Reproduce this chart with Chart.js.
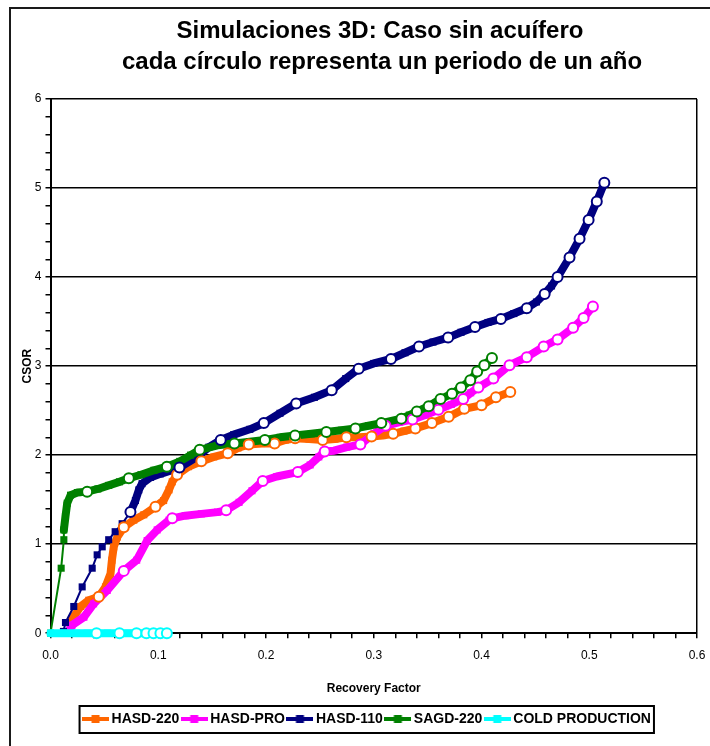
<!DOCTYPE html>
<html>
<head>
<meta charset="utf-8">
<script src="https://cdn.jsdelivr.net/npm/chart.js@4.4.1/dist/chart.umd.min.js"></script>
<style>
  html, body { margin: 0; padding: 0; background: #ffffff; }
  #wrap { width: 710px; height: 746px; }
</style>
</head>
<body>
<div id="wrap"><canvas id="chart" width="710" height="746"></canvas></div>
<script>
// Chart text
const titleLines = ['Simulaciones 3D: Caso sin acuífero', 'cada círculo representa un periodo de un año'];
const xAxisTitle = 'Recovery Factor';
const yAxisTitle = 'CSOR';
const seriesNames = ['HASD-220', 'HASD-PRO', 'HASD-110', 'SAGD-220', 'COLD PRODUCTION'];

// Each curve: [recovery factor, CSOR] along the monthly trace
const hasd220Curve = [
  [0.020, 0.16], [0.028, 0.30], [0.0355, 0.37], [0.0448, 0.41], [0.051, 0.52], [0.0557, 0.67],
  [0.057, 0.82], [0.0587, 0.97], [0.062, 1.08], [0.068, 1.19], [0.0773, 1.27], [0.0866, 1.33],
  [0.0974, 1.42], [0.105, 1.49], [0.110, 1.61], [0.113, 1.70], [0.1175, 1.78], [0.128, 1.87],
  [0.140, 1.93], [0.1515, 1.98], [0.1645, 2.02], [0.174, 2.08], [0.184, 2.12], [0.196, 2.13],
  [0.208, 2.13], [0.218, 2.17], [0.227, 2.19], [0.240, 2.18], [0.2526, 2.17], [0.264, 2.18],
  [0.2746, 2.20], [0.287, 2.20], [0.298, 2.21], [0.308, 2.22], [0.318, 2.24], [0.328, 2.27],
  [0.3386, 2.30], [0.354, 2.36], [0.3695, 2.43], [0.384, 2.52], [0.400, 2.56], [0.4134, 2.65],
  [0.4267, 2.71]
];
// Year-end points of each curve
const hasd220Years = [
  [0.0448, 0.41], [0.068, 1.19], [0.0974, 1.42], [0.1175, 1.78], [0.140, 1.93], [0.1645, 2.02],
  [0.184, 2.12], [0.208, 2.13], [0.227, 2.19], [0.2526, 2.17], [0.2746, 2.20], [0.298, 2.21],
  [0.318, 2.24], [0.3386, 2.30], [0.354, 2.36], [0.3695, 2.43], [0.384, 2.52], [0.400, 2.56],
  [0.4134, 2.65], [0.4267, 2.71]
];

const hasdProCurve = [
  [0.018, 0.04], [0.020, 0.09], [0.031, 0.18], [0.040, 0.33], [0.0526, 0.48], [0.068, 0.70],
  [0.080, 0.82], [0.0897, 1.04], [0.099, 1.16], [0.110, 1.27], [0.113, 1.29], [0.125, 1.32],
  [0.140, 1.34], [0.155, 1.36], [0.163, 1.38], [0.175, 1.47], [0.187, 1.60], [0.197, 1.71],
  [0.210, 1.76], [0.2295, 1.81], [0.241, 1.89], [0.249, 1.98], [0.2545, 2.04], [0.263, 2.05],
  [0.275, 2.09], [0.2876, 2.12], [0.300, 2.24], [0.311, 2.33], [0.324, 2.37], [0.336, 2.40],
  [0.348, 2.45], [0.360, 2.51], [0.372, 2.57], [0.383, 2.63], [0.390, 2.70], [0.397, 2.76],
  [0.411, 2.86], [0.426, 3.01], [0.442, 3.10], [0.4577, 3.22], [0.4706, 3.30], [0.485, 3.43],
  [0.4947, 3.54], [0.5034, 3.67]
];
const hasdProYears = [
  [0.068, 0.70], [0.113, 1.29], [0.163, 1.38], [0.197, 1.71], [0.2295, 1.81], [0.2545, 2.04],
  [0.2876, 2.12], [0.311, 2.33], [0.336, 2.40], [0.360, 2.51], [0.383, 2.63], [0.397, 2.76],
  [0.411, 2.86], [0.426, 3.01], [0.442, 3.10], [0.4577, 3.22], [0.4706, 3.30], [0.485, 3.43],
  [0.4947, 3.54], [0.5034, 3.67]
];

const hasd110Curve = [
  [0.012, 0.02], [0.0139, 0.12], [0.0216, 0.30], [0.0294, 0.52], [0.0387, 0.73], [0.0433, 0.88],
  [0.048, 0.97], [0.054, 1.05], [0.060, 1.14], [0.0665, 1.23], [0.0742, 1.36], [0.0788, 1.49],
  [0.082, 1.61], [0.085, 1.68], [0.0928, 1.75], [0.102, 1.79], [0.1197, 1.86], [0.136, 1.98],
  [0.147, 2.09], [0.158, 2.17], [0.170, 2.23], [0.185, 2.29], [0.198, 2.36], [0.213, 2.47],
  [0.228, 2.58], [0.245, 2.65], [0.261, 2.73], [0.274, 2.86], [0.286, 2.97], [0.300, 3.03],
  [0.316, 3.08], [0.329, 3.15], [0.342, 3.22], [0.355, 3.27], [0.369, 3.32], [0.381, 3.38],
  [0.394, 3.44], [0.406, 3.49], [0.418, 3.53], [0.430, 3.59], [0.442, 3.65], [0.451, 3.72],
  [0.4586, 3.81], [0.465, 3.90], [0.4706, 4.00], [0.4817, 4.22], [0.491, 4.43], [0.4994, 4.64],
  [0.507, 4.85], [0.514, 5.06]
];
const hasd110Years = [
  [0.0742, 1.36], [0.1197, 1.86], [0.158, 2.17], [0.198, 2.36], [0.228, 2.58], [0.261, 2.73],
  [0.286, 2.97], [0.316, 3.08], [0.342, 3.22], [0.369, 3.32], [0.394, 3.44], [0.418, 3.53],
  [0.442, 3.65], [0.4586, 3.81], [0.4706, 4.00], [0.4817, 4.22], [0.491, 4.43], [0.4994, 4.64],
  [0.507, 4.85], [0.514, 5.06]
];

const sagd220Curve = [
  [0, 0], [0.0099, 0.73], [0.0124, 1.05], [0.0124, 1.16], [0.0139, 1.31], [0.0155, 1.46],
  [0.0186, 1.55], [0.025, 1.58], [0.034, 1.59], [0.044, 1.62], [0.054, 1.66], [0.064, 1.70],
  [0.0727, 1.74], [0.084, 1.78], [0.096, 1.83], [0.108, 1.87], [0.120, 1.93], [0.130, 2.00],
  [0.1385, 2.06], [0.155, 2.11], [0.1707, 2.13], [0.185, 2.15], [0.199, 2.17], [0.213, 2.20],
  [0.227, 2.22], [0.242, 2.24], [0.256, 2.26], [0.270, 2.28], [0.283, 2.30], [0.295, 2.33],
  [0.307, 2.36], [0.3256, 2.41], [0.333, 2.45], [0.340, 2.49], [0.351, 2.55], [0.362, 2.63],
  [0.3726, 2.69], [0.381, 2.76], [0.3896, 2.84], [0.396, 2.94], [0.4026, 3.01], [0.4097, 3.09]
];
const sagd220Years = [
  [0.034, 1.59], [0.0727, 1.74], [0.108, 1.87], [0.1385, 2.06], [0.1707, 2.13], [0.199, 2.17],
  [0.227, 2.22], [0.256, 2.26], [0.283, 2.30], [0.307, 2.36], [0.3256, 2.41], [0.340, 2.49],
  [0.351, 2.55], [0.362, 2.63], [0.3726, 2.69], [0.381, 2.76], [0.3896, 2.84], [0.396, 2.94],
  [0.4026, 3.01], [0.4097, 3.09]
];

const coldCurve = [
  [0, 0], [0.012, 0], [0.024, 0], [0.034, 0], [0.0427, 0], [0.053, 0], [0.064, 0],
  [0.072, 0], [0.0798, 0], [0.089, 0], [0.0956, 0], [0.102, 0], [0.108, 0]
];
const coldYears = [
  [0.0427, 0], [0.064, 0], [0.0798, 0], [0.089, 0], [0.0956, 0], [0.102, 0], [0.108, 0]
];

// Axis ticks
const xMajorTicks = [0.0, 0.1, 0.2, 0.3, 0.4, 0.5, 0.6];
const yMajorTicks = [0, 1, 2, 3, 4, 5, 6];

// Styling
const seriesColors = ['#FF6600', '#FF00FF', '#000080', '#008000', '#00FFFF'];
const curves = [hasd220Curve, hasdProCurve, hasd110Curve, sagd220Curve, coldCurve];
const years = [hasd220Years, hasdProYears, hasd110Years, sagd220Years, coldYears];
// leading segments drawn as a thin connector (widely spaced monthly points)
const thinLead = [0, 0, 10, 3, 0];

const toPoints = arr => arr.map(([x, y]) => ({ x, y }));

function legendMarker(color) {
  const c = document.createElement('canvas');
  c.width = 27; c.height = 10;
  const g = c.getContext('2d');
  g.fillStyle = color;
  g.fillRect(0, 3, 27, 4);
  g.fillRect(9.5, 1, 8, 8);
  return c;
}
const legendMarkers = seriesColors.map(legendMarker);

const lineSets = curves.map((curve, i) => ({
  label: seriesNames[i],
  data: toPoints(curve),
  showLine: true,
  borderColor: seriesColors[i],
  backgroundColor: seriesColors[i],
  borderWidth: 8,
  borderJoinStyle: 'round',
  borderCapStyle: 'round',
  segment: { borderWidth: ctx => (ctx.p0DataIndex < thinLead[i] ? 2 : 8) },
  pointStyle: 'rect',
  pointRadius: 5,
  pointHoverRadius: 5,
  pointBorderWidth: 0,
  pointBackgroundColor: seriesColors[i],
  clip: false,
  order: 10 - i
}));

const yearSets = years.map((pts, i) => ({
  label: seriesNames[i] + ' anual',
  data: toPoints(pts),
  showLine: false,
  pointStyle: 'circle',
  pointRadius: 5,
  pointHoverRadius: 5,
  pointBorderWidth: 2,
  pointBackgroundColor: '#ffffff',
  pointBorderColor: seriesColors[i],
  clip: false,
  order: 5 - i
}));

const isMajor = (v, list) => list.some(m => Math.abs(m - v) < 1e-6);

const framePlugin = {
  id: 'frameAndTitle',
  afterLayout(chart) {
    // nudge the legend row slightly left of the plot centre
    const lg = chart.legend;
    if (lg) { lg.left -= 5; lg.right -= 5; }
  },
  beforeDraw(chart) {
    const ctx = chart.ctx;
    ctx.save();
    ctx.fillStyle = '#ffffff';
    ctx.fillRect(0, 0, chart.width, chart.height);
    ctx.strokeStyle = '#1a1a1a';
    ctx.lineWidth = 2;
    ctx.strokeRect(10, 8, 720, 780);
    ctx.restore();
  },
  afterDraw(chart) {
    const ctx = chart.ctx;
    ctx.save();
    ctx.fillStyle = '#000';
    ctx.font = 'bold 24px "Liberation Sans", Arial, sans-serif';
    ctx.textAlign = 'center';
    ctx.textBaseline = 'middle';
    ctx.fillText(titleLines[0], 380, 31);
    ctx.fillText(titleLines[1], 382, 62);
    // legend frame
    const boxes = chart.legend.legendHitBoxes;
    if (boxes && boxes.length) {
      const first = boxes[0], last = boxes[boxes.length - 1];
      const left = first.left - 7;
      const right = last.left + last.width + 3;
      const top = Math.min(...boxes.map(b => b.top)) - 6;
      const bottom = Math.max(...boxes.map(b => b.top + b.height)) + 7;
      ctx.strokeStyle = '#000';
      ctx.lineWidth = 2;
      ctx.strokeRect(left, top, right - left, bottom - top);
    }
    ctx.restore();
  }
};

new Chart(document.getElementById('chart'), {
  type: 'scatter',
  data: { datasets: [...lineSets, ...yearSets] },
  options: {
    responsive: false,
    animation: false,
    devicePixelRatio: 1,
    layout: { padding: { left: 10, right: 13, top: 99, bottom: 10 } },
    plugins: {
      title: { display: false },
      tooltip: { enabled: false },
      legend: {
        position: 'bottom',
        fullSize: false,
        labels: {
          usePointStyle: true,
          pointStyleWidth: 18,
          boxHeight: 10,
          padding: 6,
          color: '#000',
          font: { family: '"Liberation Sans", Arial, sans-serif', size: 14, weight: 'bold' },
          filter: item => item.datasetIndex < seriesNames.length,
          sort: (a, b) => a.datasetIndex - b.datasetIndex,
          generateLabels: chart => {
            const base = Chart.defaults.plugins.legend.labels.generateLabels(chart);
            return base.map(l => Object.assign(l, { pointStyle: legendMarkers[l.datasetIndex] || l.pointStyle }));
          }
        }
      }
    },
    scales: {
      x: {
        type: 'linear',
        min: 0,
        max: 0.6,
        border: { display: true, color: '#000', width: 2 },
        grid: {
          color: ctx => (Math.abs(ctx.tick.value - 0.6) < 1e-6 ? '#000' : 'rgba(0,0,0,0)'),
          lineWidth: 1.5,
          tickColor: '#000',
          tickLength: 5,
          drawTicks: true
        },
        ticks: {
          stepSize: 0.02,
          autoSkip: false,
          maxRotation: 0,
          padding: 10,
          color: '#000',
          font: { family: '"Liberation Sans", Arial, sans-serif', size: 12 },
          callback: v => (isMajor(v, xMajorTicks) ? Number(v).toFixed(1) : '')
        },
        title: {
          display: true,
          text: xAxisTitle,
          color: '#000',
          font: { family: '"Liberation Sans", Arial, sans-serif', size: 12, weight: 'bold' },
          padding: { top: 9, bottom: 10 }
        },
        afterFit: scale => { scale.paddingLeft = 8; scale.paddingRight = 8; }
      },
      y: {
        type: 'linear',
        min: 0,
        max: 6,
        border: { display: true, color: '#000', width: 2 },
        grid: {
          color: ctx => (isMajor(ctx.tick.value, yMajorTicks) ? '#000' : 'rgba(0,0,0,0)'),
          lineWidth: 1.5,
          tickColor: '#000',
          tickLength: 5,
          drawTicks: true
        },
        ticks: {
          stepSize: 0.2,
          autoSkip: false,
          padding: 4,
          color: '#000',
          font: { family: '"Liberation Sans", Arial, sans-serif', size: 12 },
          callback: v => (isMajor(v, yMajorTicks) ? String(Math.round(v)) : '')
        },
        title: {
          display: true,
          text: yAxisTitle,
          color: '#000',
          font: { family: '"Liberation Sans", Arial, sans-serif', size: 12, weight: 'bold' },
          padding: { top: 10, bottom: 0 }
        },
        afterFit: scale => { scale.width = 40.5; }
      }
    }
  },
  plugins: [framePlugin]
});
</script>
</body>
</html>
